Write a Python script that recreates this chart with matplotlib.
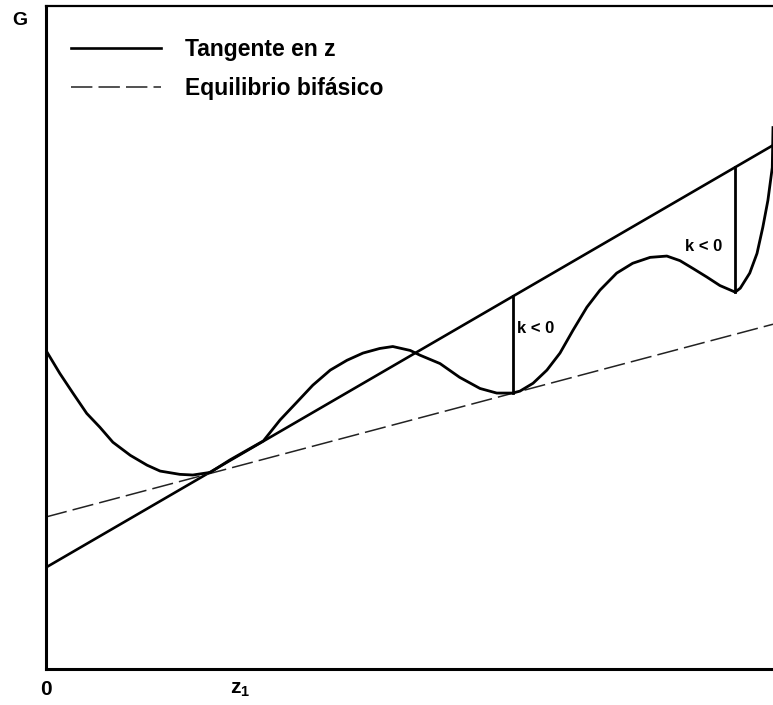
import matplotlib
matplotlib.use("Agg")
import matplotlib.pyplot as plt
import numpy as np

plt.rcParams['font.family'] = ['Liberation Sans', 'DejaVu Sans']
plt.rcParams['mathtext.default'] = 'regular'

# Gibbs energy curve G(z), composition scaled 0..1
z = [0.000, 0.019, 0.037, 0.056, 0.074, 0.092, 0.116, 0.139, 0.157, 0.184,
     0.202, 0.226, 0.253, 0.299, 0.322, 0.345, 0.367, 0.391, 0.414, 0.436,
     0.459, 0.477, 0.501, 0.514, 0.542, 0.569, 0.597, 0.620, 0.642, 0.652,
     0.670, 0.689, 0.707, 0.725, 0.744, 0.762, 0.785, 0.807, 0.831, 0.854,
     0.872, 0.890, 0.909, 0.927, 0.948, 0.955, 0.968, 0.978, 0.986, 0.993,
     0.999, 1.000]
G = [0.486, 0.451, 0.421, 0.390, 0.369, 0.346, 0.326, 0.311, 0.302, 0.297,
     0.296, 0.300, 0.319, 0.348, 0.380, 0.407, 0.433, 0.456, 0.471, 0.482,
     0.489, 0.492, 0.486, 0.479, 0.466, 0.445, 0.428, 0.421, 0.421, 0.424,
     0.436, 0.456, 0.482, 0.517, 0.552, 0.578, 0.604, 0.619, 0.628, 0.630,
     0.623, 0.611, 0.598, 0.585, 0.575, 0.581, 0.604, 0.634, 0.674, 0.715,
     0.765, 0.826]

# tangent at z1 and two-phase (common tangent) line, endpoints at z=0 and z=1
tan_z = [0.0, 1.0]
tan_G = [0.155, 0.799]
eq_z = [0.0, 1.0]
eq_G = [0.232, 0.526]

z1 = 0.267
k_z = [0.642, 0.948]
k_text = ["k < 0", "k < 0"]
k_text_pos = [(0.674, 0.520), (0.905, 0.645)]

fig = plt.figure(figsize=(7.73, 7.05), dpi=100)
ax = fig.add_axes([0.0595, 0.051, 0.9405, 0.941])

ax.plot(tan_z, tan_G, color='black', lw=1.9, label='Tangente en z')
ax.plot(eq_z, eq_G, color='#222222', lw=1.1, linestyle=(0, (14, 4)),
        label='Equilibrio bifásico')
ax.plot(z, G, color='black', lw=2.0, solid_joinstyle='round')

# vertical distances between curve and tangent
for kz, txt, pos in zip(k_z, k_text, k_text_pos):
    g_curve = np.interp(kz, z, G)
    g_tan = np.interp(kz, tan_z, tan_G)
    ax.plot([kz, kz], [g_curve, g_tan], color='black', lw=2.0)
    ax.text(pos[0], pos[1], txt, fontsize=12, fontweight='bold',
            ha='center', va='center')

ax.set_xlim(0, 1)
ax.set_ylim(0, 1.012)

ax.set_xticks([0, z1])
ax.set_xticklabels(['0', 'z$_1$'], fontsize=15, fontweight='bold')
ax.tick_params(axis='x', length=0, pad=8)
ax.set_yticks([])

ax.set_ylabel('G', rotation=0, fontsize=14, fontweight='bold')
ax.yaxis.set_label_coords(-0.036, 0.965)

ax.spines['right'].set_visible(False)
ax.spines['left'].set_linewidth(2.2)
ax.spines['bottom'].set_linewidth(2.2)
ax.spines['top'].set_linewidth(1.6)

leg = ax.legend(loc='upper left', bbox_to_anchor=(0.013, 0.975), frameon=False,
                prop={'size': 16.5, 'weight': 'bold'}, handlelength=3.9,
                handletextpad=1.05, labelspacing=0.7, borderaxespad=0.3)

fig.savefig('out.png', dpi=100)
